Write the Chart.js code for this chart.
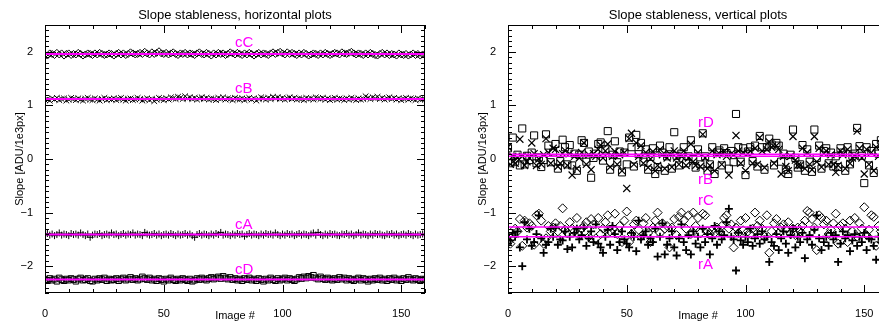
<!DOCTYPE html>
<html>
<head>
<meta charset="utf-8">
<script src="https://cdn.jsdelivr.net/npm/chart.js@4"></script>
<style>
  html, body { margin: 0; padding: 0; background: #fff; overflow: hidden; width: 879px; height: 324px; }
  #left { position: absolute; left: 0; top: 0; width: 440px; height: 324px; }
  #right { position: absolute; left: 440px; top: 0; width: 460px; height: 324px; }
</style>
</head>
<body>
<div id="left"><canvas id="hChart" width="440" height="324"></canvas></div>
<div id="right"><canvas id="vChart" width="460" height="324"></canvas></div>
<script>
// image numbers 0..160
const images = Array.from({length: 161}, (_, i) => i);
const xTicks = [0, 50, 100, 150];
const yTicks = [-2, -1, 0, 1, 2];

// horizontal plots
const hNames = ['cC', 'cB', 'cA', 'cD'];
const hFit = [1.96, 1.12, -1.41, -2.25];
const hLabelY = [2.16, 1.31, -1.23, -2.07];
const cC = [
1.95,1.93,1.97,1.96,1.94,1.98,1.95,1.97,1.93,1.96,1.97,1.94,1.96,1.95,1.98,1.96,1.93,1.95,1.97,1.96,
1.94,1.97,1.95,1.98,1.96,1.94,1.95,1.97,1.96,1.93,1.96,1.98,1.95,1.97,1.94,1.96,1.99,1.97,1.95,1.96,
1.98,1.96,2.00,1.97,1.95,1.99,1.96,1.98,2.01,1.97,1.96,1.98,1.95,1.97,1.99,1.96,1.94,1.97,1.96,1.98,
1.95,1.97,1.96,1.94,1.97,1.99,1.96,1.95,1.98,1.96,1.93,1.97,1.95,1.98,1.96,1.97,1.94,1.96,1.99,1.97,
1.95,1.98,1.96,1.94,1.97,1.95,1.98,1.96,1.93,1.96,1.98,1.95,1.97,1.96,1.94,1.97,1.99,1.96,1.98,2.00,
1.97,1.95,1.99,1.96,1.98,1.96,1.94,1.97,1.95,1.98,1.96,1.93,1.95,1.97,1.96,1.94,1.97,1.95,1.98,1.96,
1.94,1.96,1.98,1.97,1.95,1.99,1.97,1.96,1.98,2.00,1.97,1.95,1.97,1.96,1.94,1.97,1.95,1.98,1.96,1.94,
1.93,1.96,1.98,1.95,1.97,1.94,1.96,1.95,1.93,1.97,1.95,1.94,1.96,1.93,1.95,1.97,1.94,1.96,1.93,1.95,
1.94];
const cB = [
1.10,1.12,1.09,1.13,1.11,1.14,1.10,1.12,1.13,1.09,1.11,1.14,1.12,1.10,1.13,1.11,1.09,1.12,1.14,1.11,
1.10,1.13,1.11,1.09,1.12,1.14,1.10,1.12,1.11,1.13,1.10,1.12,1.14,1.11,1.09,1.12,1.13,1.10,1.11,1.14,
1.12,1.09,1.11,1.13,1.10,1.12,1.08,1.11,1.14,1.12,1.10,1.13,1.11,1.15,1.13,1.12,1.16,1.14,1.12,1.17,
1.13,1.15,1.12,1.14,1.11,1.13,1.15,1.12,1.14,1.11,1.13,1.12,1.10,1.14,1.12,1.15,1.11,1.13,1.12,1.10,
1.14,1.12,1.11,1.13,1.10,1.12,1.14,1.11,1.13,1.09,1.12,1.15,1.13,1.11,1.14,1.12,1.16,1.13,1.15,1.12,
1.14,1.11,1.13,1.15,1.12,1.14,1.11,1.13,1.12,1.10,1.14,1.12,1.13,1.11,1.15,1.13,1.12,1.14,1.11,1.13,
1.10,1.12,1.14,1.11,1.13,1.12,1.10,1.13,1.11,1.14,1.12,1.10,1.13,1.11,1.12,1.17,1.14,1.12,1.15,1.13,
1.16,1.12,1.14,1.11,1.13,1.15,1.12,1.14,1.11,1.13,1.10,1.12,1.14,1.11,1.13,1.12,1.10,1.13,1.11,1.12,
1.11];
const cA = [
-1.41,-1.39,-1.42,-1.40,-1.43,-1.41,-1.38,-1.42,-1.40,-1.41,-1.43,-1.39,-1.41,-1.40,-1.42,-1.38,-1.41,-1.43,-1.40,-1.46,
-1.42,-1.40,-1.41,-1.39,-1.43,-1.41,-1.40,-1.42,-1.38,-1.41,-1.40,-1.43,-1.41,-1.39,-1.42,-1.40,-1.41,-1.38,-1.42,-1.40,
-1.41,-1.43,-1.37,-1.40,-1.42,-1.41,-1.39,-1.42,-1.40,-1.43,-1.41,-1.40,-1.42,-1.39,-1.41,-1.43,-1.40,-1.42,-1.41,-1.39,
-1.42,-1.40,-1.43,-1.46,-1.41,-1.39,-1.42,-1.40,-1.41,-1.43,-1.40,-1.42,-1.39,-1.41,-1.37,-1.42,-1.40,-1.41,-1.43,-1.40,
-1.42,-1.39,-1.41,-1.40,-1.44,-1.41,-1.39,-1.42,-1.40,-1.41,-1.43,-1.40,-1.42,-1.39,-1.41,-1.40,-1.42,-1.38,-1.41,-1.43,
-1.40,-1.42,-1.39,-1.41,-1.40,-1.43,-1.41,-1.39,-1.42,-1.40,-1.41,-1.43,-1.40,-1.38,-1.42,-1.37,-1.41,-1.43,-1.40,-1.42,
-1.39,-1.41,-1.40,-1.42,-1.43,-1.40,-1.41,-1.39,-1.42,-1.40,-1.43,-1.41,-1.38,-1.42,-1.40,-1.41,-1.43,-1.40,-1.42,-1.39,
-1.41,-1.40,-1.42,-1.43,-1.40,-1.41,-1.39,-1.42,-1.40,-1.43,-1.41,-1.40,-1.42,-1.39,-1.41,-1.43,-1.40,-1.42,-1.41,-1.40,
-1.42];
const cD = [
-2.25,-2.27,-2.23,-2.26,-2.24,-2.28,-2.22,-2.25,-2.27,-2.24,-2.26,-2.23,-2.25,-2.28,-2.24,-2.22,-2.26,-2.25,-2.23,-2.27,
-2.28,-2.24,-2.26,-2.23,-2.25,-2.22,-2.27,-2.24,-2.26,-2.25,-2.23,-2.27,-2.24,-2.22,-2.26,-2.24,-2.21,-2.25,-2.23,-2.26,
-2.24,-2.20,-2.23,-2.25,-2.22,-2.26,-2.24,-2.27,-2.23,-2.25,-2.28,-2.24,-2.26,-2.22,-2.25,-2.27,-2.24,-2.26,-2.23,-2.25,
-2.27,-2.24,-2.28,-2.26,-2.23,-2.25,-2.22,-2.24,-2.26,-2.23,-2.21,-2.24,-2.22,-2.20,-2.23,-2.19,-2.22,-2.24,-2.21,-2.25,
-2.23,-2.26,-2.24,-2.27,-2.23,-2.25,-2.22,-2.26,-2.24,-2.27,-2.23,-2.25,-2.28,-2.24,-2.26,-2.22,-2.25,-2.27,-2.23,-2.26,
-2.24,-2.22,-2.26,-2.23,-2.25,-2.27,-2.24,-2.21,-2.23,-2.20,-2.22,-2.19,-2.21,-2.17,-2.22,-2.24,-2.20,-2.23,-2.25,-2.22,
-2.24,-2.26,-2.23,-2.25,-2.21,-2.24,-2.22,-2.26,-2.23,-2.25,-2.27,-2.24,-2.22,-2.26,-2.23,-2.25,-2.28,-2.24,-2.26,-2.23,
-2.25,-2.22,-2.26,-2.24,-2.27,-2.23,-2.25,-2.22,-2.26,-2.24,-2.27,-2.23,-2.25,-2.21,-2.24,-2.26,-2.23,-2.25,-2.27,-2.24,
-2.25];

// vertical plots
const vNames = ['rD', 'rB', 'rC', 'rA'];
const vFit = [0.09, 0.05, -1.27, -1.45];
const vLabelY = [0.67, -0.39, -0.78, -1.98];
const rD = [
0.20,-0.08,0.40,-0.05,0.08,-0.12,0.57,-0.10,0.06,-0.02,0.12,0.44,-0.08,0.03,-0.15,-0.02,0.46,0.25,-0.06,0.12,
0.28,-0.18,-0.04,0.36,0.22,-0.10,0.26,-0.12,0.10,-0.22,0.08,0.35,0.30,-0.05,0.14,-0.35,0.02,0.10,0.28,0.31,
-0.03,0.18,0.52,-0.20,0.08,0.33,-0.06,0.14,-0.25,0.12,-0.10,0.40,0.22,-0.14,0.45,0.09,0.30,-0.05,0.18,-0.20,
0.04,0.20,-0.28,-0.15,0.25,0.12,-0.22,0.05,0.22,-0.18,0.50,0.06,-0.12,0.10,0.22,-0.08,0.05,0.35,0.00,-0.16,
0.18,-0.10,0.48,0.05,-0.22,-0.10,0.22,-0.28,0.12,0.16,-0.12,0.20,0.11,-0.18,0.15,-0.06,0.84,0.22,-0.05,0.20,
-0.30,0.14,0.22,-0.04,0.25,-0.14,0.43,0.22,-0.20,0.22,0.38,0.27,-0.12,0.30,0.25,-0.05,0.10,-0.20,-0.28,0.08,
0.55,0.02,-0.16,-0.10,0.26,-0.22,0.18,-0.05,-0.24,0.55,0.02,0.25,-0.18,0.15,0.20,-0.08,0.12,-0.14,0.05,-0.15,
0.20,0.12,-0.22,0.22,-0.10,0.06,0.10,0.58,0.24,0.06,-0.45,0.22,-0.12,0.15,-0.26,0.28,0.10,0.35,0.05,0.20,
0.18];
const rB = [
0.22,-0.10,0.05,-0.08,0.02,0.37,0.05,-0.12,-0.05,0.02,0.30,0.10,-0.12,0.00,-0.10,0.08,0.38,0.12,-0.08,0.20,
0.18,-0.14,-0.08,0.10,0.16,-0.12,0.10,-0.30,0.05,-0.18,0.02,0.12,0.30,-0.10,0.08,-0.20,0.10,0.05,0.18,0.26,
0.02,0.15,0.28,-0.15,0.05,0.14,-0.10,0.08,-0.22,0.12,-0.55,0.38,0.48,-0.10,0.30,0.05,0.25,-0.08,0.12,-0.16,
0.00,0.14,-0.22,-0.12,0.18,0.08,-0.18,0.02,0.10,-0.15,0.15,0.02,-0.10,0.05,0.15,-0.12,0.02,0.28,-0.05,-0.12,
0.12,-0.14,0.46,0.02,-0.18,-0.12,0.15,-0.22,0.08,0.10,-0.10,0.14,0.05,-0.30,0.10,0.08,0.44,0.15,-0.08,0.12,
-0.22,0.10,0.15,-0.08,0.20,-0.10,0.40,0.15,-0.16,0.18,0.32,0.22,-0.08,0.25,0.18,-0.28,0.05,-0.14,-0.22,0.05,
0.42,-0.02,-0.12,-0.12,0.20,-0.18,0.12,-0.10,-0.20,0.42,-0.05,0.20,-0.15,0.10,0.15,-0.10,0.08,-0.10,-0.25,-0.12,
0.15,0.08,-0.18,0.18,-0.08,0.02,0.05,0.52,0.20,0.02,-0.28,0.18,-0.10,0.12,-0.22,0.22,0.05,0.28,0.02,0.15,
0.14];
const rC = [
-1.55,-1.58,-1.45,-1.30,-1.35,-1.12,-1.62,-1.15,-1.28,-1.20,-1.25,-1.60,-1.05,-1.02,-1.15,-1.58,-1.48,-1.25,-1.35,-1.28,
-1.20,-1.35,-1.25,-0.92,-1.32,-1.38,-1.18,-1.30,-1.35,-1.10,-1.42,-1.30,-1.25,-1.18,-1.45,-1.12,-1.22,-1.48,-1.10,-1.40,
-1.30,-1.18,-1.05,-1.35,-1.30,-1.02,-1.40,-1.25,-1.55,-1.15,-0.98,-1.55,-1.40,-1.22,-1.15,-1.32,-1.45,-1.20,-1.10,-1.38,
-1.55,-1.28,-1.15,-1.00,-1.38,-1.20,-1.30,-1.25,-1.65,-1.28,-1.12,-1.42,-1.08,-1.00,-1.15,-1.30,-1.05,-1.40,-1.00,-1.25,
-1.10,-1.38,-1.02,-1.05,-1.35,-1.40,-1.32,-1.38,-1.28,-1.35,-1.25,-1.10,-1.05,-1.30,-1.22,-1.65,-1.28,-1.38,-1.15,-1.33,
-1.10,-1.35,-1.40,-1.30,-1.00,-1.25,-1.15,-1.30,-1.45,-1.05,-1.75,-1.35,-1.20,-1.12,-1.38,-1.28,-1.22,-1.30,-1.18,-1.40,
-1.30,-1.42,-1.28,-1.35,-1.25,-1.15,-0.97,-1.00,-1.12,-1.28,-1.70,-1.05,-1.10,-1.22,-1.15,-1.40,-1.32,-1.20,-1.02,-1.58,
-1.25,-1.20,-1.30,-1.55,-1.15,-1.35,-1.10,-1.45,-1.20,-1.30,-0.90,-1.42,-1.32,-1.05,-1.08,-1.62,-1.25,-1.35,-1.18,-1.28,
-1.30];
const rA = [
-1.58,-1.52,-1.38,-1.45,-1.35,-1.65,-2.00,-1.18,-1.50,-1.30,-1.62,-1.55,-1.40,-1.05,-1.48,-1.75,-1.60,-1.55,-1.30,-1.45,
-1.28,-1.60,-1.50,-1.52,-1.35,-1.68,-1.45,-1.65,-1.38,-1.30,-1.50,-1.42,-1.28,-1.62,-1.48,-1.35,-1.55,-1.22,-1.58,-1.65,
-1.75,-1.45,-1.32,-1.60,-1.25,-1.40,-1.70,-1.55,-1.35,-1.50,-1.58,-1.65,-1.38,-1.45,-1.72,-1.15,-1.50,-1.42,-1.35,-1.60,
-1.48,-1.55,-1.30,-1.82,-1.45,-1.20,-1.78,-1.60,-1.48,-1.35,-1.65,-1.80,-1.48,-1.22,-1.55,-1.70,-1.42,-1.78,-1.35,-1.58,
-1.45,-1.65,-1.30,-1.55,-1.40,-1.78,-1.48,-1.25,-1.60,-1.35,-1.50,-1.42,-1.18,-0.93,-1.45,-1.50,-2.08,-1.38,-1.52,-1.60,
-1.45,-1.55,-1.30,-1.62,-1.48,-1.40,-1.58,-1.35,-1.50,-1.45,-1.92,-1.55,-1.62,-1.40,-1.70,-1.48,-1.35,-1.58,-1.75,-1.42,
-1.30,-1.65,-1.45,-1.55,-1.38,-1.85,-1.50,-1.42,-1.60,-1.32,-1.05,-1.48,-1.70,-1.55,-1.45,-1.62,-1.38,-1.50,-1.42,-1.92,
-1.58,-1.35,-1.48,-1.42,-1.72,-1.52,-1.40,-1.62,-1.45,-1.55,-1.38,-1.70,-1.48,-1.50,-1.62,-1.88,-1.45,-1.55,-1.38,-1.60,
-1.48];

const FONT = '"Liberation Sans", Arial, sans-serif';
const MAGENTA = '#ff00ff';

// IDL style box: frame, inward ticks on all sides, titles, magenta labels
const idlBox = {
  id: 'idlBox',
  afterDraw(chart, args, opts) {
    const {ctx, chartArea: a} = chart;
    const xs = chart.scales.x, ys = chart.scales.y;
    ctx.save();
    ctx.strokeStyle = '#000';
    ctx.lineWidth = 1;
    ctx.strokeRect(a.left + 0.5, a.top + 0.5, a.right - a.left - 1, a.bottom - a.top - 1);
    ctx.beginPath();
    for (let v = 0; v <= 160; v += 10) {
      const px = Math.round(xs.getPixelForValue(v)) + 0.5;
      const len = v % 50 === 0 ? 8 : 4;
      ctx.moveTo(px, a.bottom); ctx.lineTo(px, a.bottom - len);
      ctx.moveTo(px, a.top); ctx.lineTo(px, a.top + len);
    }
    for (let k = -25; k <= 25; k++) {
      const py = Math.round(ys.getPixelForValue(k / 10)) + 0.5;
      const len = k % 10 === 0 ? 8 : 4;
      ctx.moveTo(a.left, py); ctx.lineTo(a.left + len, py);
      ctx.moveTo(a.right, py); ctx.lineTo(a.right - len, py);
    }
    ctx.stroke();

    const cx = (a.left + a.right) / 2;
    ctx.fillStyle = '#000';
    ctx.textAlign = 'center';
    ctx.textBaseline = 'middle';
    ctx.font = '13px ' + FONT;
    ctx.fillText(opts.title, cx, 15);
    ctx.font = '11px ' + FONT;
    ctx.fillText('Image #', cx, 316);
    ctx.save();
    ctx.translate(a.left - 25, (a.top + a.bottom) / 2);
    ctx.rotate(-Math.PI / 2);
    ctx.fillText('Slope [ADU/1e3px]', 0, 0);
    ctx.restore();

    ctx.fillStyle = MAGENTA;
    ctx.textAlign = 'left';
    ctx.font = '15px ' + FONT;
    opts.names.forEach((n, i) => {
      ctx.fillText(n, xs.getPixelForValue(80), ys.getPixelForValue(opts.labelY[i]));
    });
    ctx.restore();
  }
};

function makePanel(id, title, names, series, styles, fits, fitWidth, labelY, yWidth, rightPad) {
  const datasets = [];
  series.forEach((vals, i) => {
    const st = styles[i];
    datasets.push({
      type: 'scatter',
      data: vals.map((y, j) => ({x: images[j], y})),
      pointStyle: st.shape,
      pointRadius: st.r,
      pointBorderWidth: st.w,
      pointBorderColor: '#000',
      pointBackgroundColor: 'rgba(0,0,0,0)',
      order: 1
    });
  });
  fits.forEach(f => {
    datasets.push({
      type: 'line',
      data: [{x: 0, y: f}, {x: 160, y: f}],
      borderColor: MAGENTA,
      borderWidth: fitWidth,
      pointRadius: 0,
      order: 0
    });
  });
  new Chart(document.getElementById(id), {
    type: 'scatter',
    data: {datasets},
    options: {
      responsive: false,
      animation: false,
      layout: {padding: {top: 25, right: rightPad, left: 0, bottom: 0}},
      plugins: {legend: {display: false}, tooltip: {enabled: false},
        idlBox: {title, names, labelY}},
      scales: {
        x: {
          type: 'linear', min: 0, max: 160,
          afterBuildTicks: s => { s.ticks = xTicks.map(v => ({value: v})); },
          afterFit: s => { s.height = 31; },
          grid: {display: false}, border: {display: false},
          ticks: {color: '#000', padding: 6, maxRotation: 0, font: {family: FONT, size: 11}}
        },
        y: {
          type: 'linear', min: -2.5, max: 2.5,
          afterBuildTicks: s => { s.ticks = yTicks.map(v => ({value: v})); },
          afterFit: s => { s.width = yWidth; },
          grid: {display: false}, border: {display: false},
          ticks: {color: '#000', padding: 4, font: {family: FONT, size: 11},
            callback: v => String(v).replace('-', '\u2212')}
        }
      }
    },
    plugins: [idlBox]
  });
}

makePanel('hChart', 'Slope stableness, horizontal plots', hNames, [cC, cB, cA, cD],
  [{shape: 'rectRot', r: 3.5, w: 1}, {shape: 'crossRot', r: 4, w: 1},
   {shape: 'cross', r: 3.5, w: 1}, {shape: 'rect', r: 4, w: 1}],
  hFit, 2, hLabelY, 45, 15);

makePanel('vChart', 'Slope stableness, vertical plots', vNames, [rD, rB, rC, rA],
  [{shape: 'rect', r: 5, w: 1}, {shape: 'crossRot', r: 5, w: 1.2},
   {shape: 'rectRot', r: 4.5, w: 1}, {shape: 'cross', r: 4, w: 1.8}],
  vFit, 1.5, vLabelY, 68, 12);
</script>
</body>
</html>
